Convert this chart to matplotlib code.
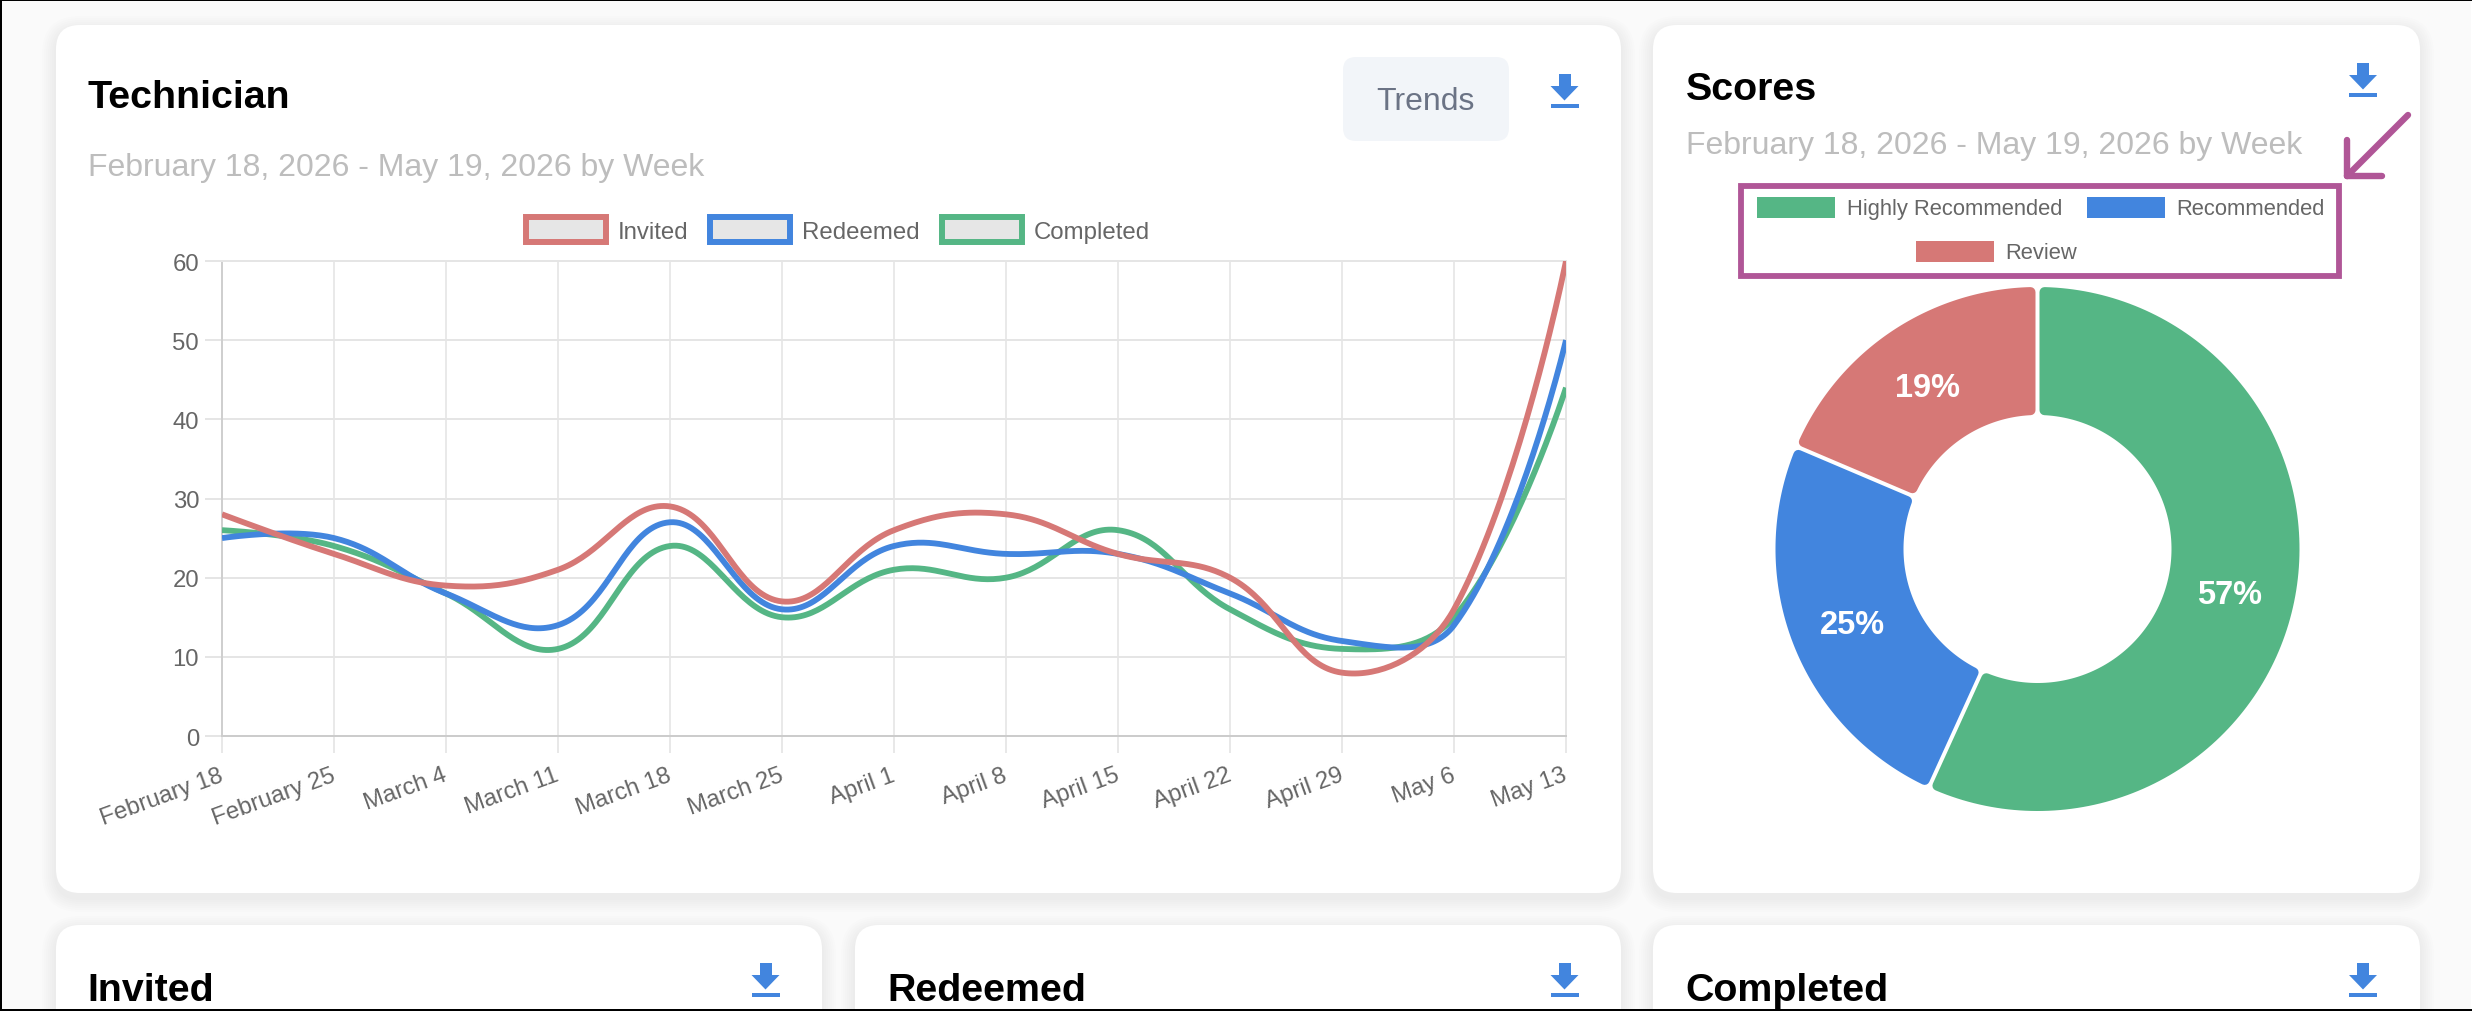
import numpy as np
import matplotlib
matplotlib.use("Agg")
import matplotlib.pyplot as plt
from matplotlib.patches import FancyBboxPatch, Patch, Polygon, Rectangle
from matplotlib.lines import Line2D
from matplotlib.path import Path
from matplotlib.transforms import ScaledTranslation

plt.rcParams['font.family'] = ['Liberation Sans', 'DejaVu Sans']

# ---------- data ----------
weeks = ["February 18", "February 25", "March 4", "March 11", "March 18", "March 25",
         "April 1", "April 8", "April 15", "April 22", "April 29", "May 6", "May 13"]
invited = [28, 23, 19, 21, 29, 17, 26, 28, 23, 20, 8, 16, 60]
redeemed = [25, 25, 18, 14, 27, 16, 24, 23, 23, 18, 12, 14, 50]
completed = [26, 24, 18, 11, 24, 15, 21, 20, 26, 16, 11, 15, 44]
y_ticks = [0, 10, 20, 30, 40, 50, 60]
score_labels = ["Highly Recommended", "Recommended", "Review"]
score_values = [56.8, 24.6, 18.6]
date_range = "February 18, 2026 - May 19, 2026 by Week"

RED, BLUE, GREEN = '#d67876', '#4285de', '#55b685'
PURPLE = '#b05697'
W, H = 2472, 1012

fig = plt.figure(figsize=(W / 100, H / 100), dpi=100, facecolor='#fafafa')


def px_axes(l, t, r, b, **kw):
    return fig.add_axes([l / W, 1 - b / H, (r - l) / W, (b - t) / H], **kw)


# ---------- page layer in pixel coordinates ----------
bg = px_axes(0, 0, W, H, zorder=0)
bg.set_xlim(0, W)
bg.set_ylim(H, 0)
bg.axis('off')


def card(x0, y0, x1, y1, r=24):
    for i in range(7):
        e = 14 - 2 * i
        bg.add_patch(FancyBboxPatch((x0 - e, y0 + 5 - e), x1 - x0 + 2 * e, y1 - y0 + 2 * e,
                                    boxstyle=f"round,pad=0,rounding_size={r + e}",
                                    fc='black', ec='none', alpha=0.006, clip_on=True))
    bg.add_patch(FancyBboxPatch((x0, y0), x1 - x0, y1 - y0,
                                boxstyle=f"round,pad=0,rounding_size={r}",
                                fc='white', ec='none'))


for c in [(56, 26, 1621, 894), (1653, 26, 2420, 894),
          (56, 926, 822, 1040), (855, 926, 1621, 1040), (1653, 926, 2420, 1040)]:
    card(*c)


def icon(cx, top):
    bg.add_patch(Rectangle((cx - 6, top), 12, 12.5, fc=BLUE, ec='none'))
    bg.add_patch(Polygon([(cx - 14, top + 12), (cx + 14, top + 12), (cx, top + 26.5)],
                         fc=BLUE, ec='none'))
    bg.add_patch(Rectangle((cx - 14, top + 30), 28, 4, fc=BLUE, ec='none'))


for cx, top in [(1564.5, 75), (2363, 64), (765.5, 964), (1564.5, 964), (2363, 964)]:
    icon(cx, top)

for s, x, y in [("Technician", 88, 108), ("Scores", 1686, 100), ("Invited", 87, 1001),
                ("Redeemed", 887, 1001), ("Completed", 1685, 1001)]:
    bg.text(x, y, s, fontsize=28.4, fontweight='bold', color='black', va='baseline', ha='left')

for x, y in [(88, 176), (1686, 154)]:
    bg.text(x, y, date_range, fontsize=23, color='#bdbdbd', va='baseline', ha='left')

bg.add_patch(FancyBboxPatch((1343, 58), 166, 84, boxstyle="round,pad=0,rounding_size=13",
                            fc='#f2f5f9', ec='none'))
bg.text(1425.5, 101.5, "Trends", fontsize=23, color='#6b7385', ha='center', va='center')

# ---------- line chart ----------
AX_L, AX_T, AX_R, AX_B = 222, 262, 1566, 737
ax = px_axes(AX_L, AX_T, AX_R, AX_B, zorder=2)
ax.patch.set_alpha(0)
x_idx = np.arange(len(weeks))
ax.set_xlim(0, len(weeks) - 1)
ax.set_ylim(0, 60)
sx = (AX_R - AX_L) / (len(weeks) - 1)
sy = (AX_B - AX_T) / 60


def spline(xs, ys, tension=0.4, n=40):
    """Chart.js style cubic through the values; returns sampled curve."""
    p = np.column_stack([np.asarray(xs, float) * sx, np.asarray(ys, float) * sy])
    m = len(p)
    prev_cp, next_cp = p.copy(), p.copy()
    for i in range(1, m - 1):
        d01 = np.hypot(*(p[i] - p[i - 1]))
        d12 = np.hypot(*(p[i + 1] - p[i]))
        tot = d01 + d12
        prev_cp[i] = p[i] - tension * d01 / tot * (p[i + 1] - p[i - 1])
        next_cp[i] = p[i] + tension * d12 / tot * (p[i + 1] - p[i - 1])
    out = []
    t = np.linspace(0, 1, n)[:, None]
    for i in range(m - 1):
        out.append((1 - t) ** 3 * p[i] + 3 * (1 - t) ** 2 * t * next_cp[i]
                   + 3 * (1 - t) * t ** 2 * prev_cp[i + 1] + t ** 3 * p[i + 1])
    out = np.vstack(out)
    return out[:, 0] / sx, out[:, 1] / sy


for vals, col, z, name in [(completed, GREEN, 3, "Completed"),
                           (redeemed, BLUE, 4, "Redeemed"),
                           (invited, RED, 5, "Invited")]:
    cx, cy = spline(x_idx, vals)
    ax.plot(cx, cy, color=col, lw=4.2, zorder=z, solid_capstyle='butt', label=name)

ax.set_xticks(x_idx)
ax.set_xticklabels(weeks, rotation=20, ha='right', rotation_mode='anchor',
                   fontsize=17.2, color='#666666')
ax.set_yticks(y_ticks)
ax.tick_params(axis='y', labelsize=17.2, labelcolor='#666666', length=12, width=1.44,
               color='#e5e5e5', pad=4.5)
ax.tick_params(axis='x', length=12, width=1.25, color='#e5e5e5', pad=8)
shift = ScaledTranslation(-3.5 / 100, 0, fig.dpi_scale_trans)
for lab in ax.get_xticklabels():
    lab.set_transform(lab.get_transform() + shift)
ax.grid(True, axis='y', color='#e5e5e5', lw=1.44, zorder=1)
ax.grid(True, axis='x', color='#e6e6e6', lw=1.25, zorder=1)
ax.set_axisbelow(True)
for side, col in [('left', '#cfcfcf'), ('bottom', '#cccccc'), ('top', '#e5e5e5'), ('right', '#e5e5e5')]:
    ax.spines[side].set_color(col)
    ax.spines[side].set_linewidth(1.44)

fs_line = 17.3
fs_px = fs_line / 0.72
line_handles = [Patch(facecolor='#e6e6e6', edgecolor=c, lw=4.3, joinstyle='miter')
                for c in (RED, BLUE, GREEN)]
ax.legend(line_handles, ["Invited", "Redeemed", "Completed"], ncol=3, loc='center',
          bbox_to_anchor=(838 / W, 1 - 231 / H), bbox_transform=fig.transFigure,
          frameon=False, fontsize=fs_line, labelcolor='#666666',
          handlelength=80 / fs_px, handleheight=28 / fs_px, handletextpad=0.5,
          columnspacing=0.92, borderpad=0, borderaxespad=0)

# ---------- doughnut ----------
CX, CY, R_OUT, R_IN = 2037.5, 550, 262, 134
dn = px_axes(CX - 300, CY - 300, CX + 300, CY + 300, zorder=2)
wedges, _, autotexts = dn.pie(score_values, colors=[GREEN, BLUE, RED], startangle=90,
                              counterclock=False, radius=R_OUT, autopct='%.0f%%',
                              pctdistance=198 / R_OUT,
                              wedgeprops={'width': R_OUT - R_IN},
                              textprops={'color': 'white', 'fontsize': 23.5, 'fontweight': 'bold'})
dn.set_xlim(-300, 300)
dn.set_ylim(-300, 300)
lab_shift = ScaledTranslation(-1.0 / 100, -3.5 / 100, fig.dpi_scale_trans)
for t in autotexts:
    t.set_transform(t.get_transform() + lab_shift)
corner, gap = 5.0, 2.0
ro, ri = R_OUT - corner, R_IN + corner
off = corner + gap
for w in wedges:
    aso, asi = np.degrees(np.arcsin(off / ro)), np.degrees(np.arcsin(off / ri))
    to = np.radians(np.linspace(w.theta1 + aso, w.theta2 - aso, 160))
    ti = np.radians(np.linspace(w.theta2 - asi, w.theta1 + asi, 160))
    verts = np.vstack([np.column_stack([ro * np.cos(to), ro * np.sin(to)]),
                       np.column_stack([ri * np.cos(ti), ri * np.sin(ti)]),
                       [[ro * np.cos(to[0]), ro * np.sin(to[0])]]])
    w._path = Path(verts, closed=True)
    w.set_edgecolor(w.get_facecolor())
    w.set_linewidth(2 * corner * 0.72)
    w.set_joinstyle('round')

fs_dn = 15.85
fs_dn_px = fs_dn / 0.72
score_handles = [Patch(facecolor=c, edgecolor='none') for c in (GREEN, BLUE, RED)]
common = dict(frameon=False, fontsize=fs_dn, labelcolor='#666666', loc='center',
              bbox_transform=fig.transFigure, handlelength=78 / fs_dn_px,
              handleheight=24 / fs_dn_px, handletextpad=0.55, columnspacing=1.1,
              borderpad=0, borderaxespad=0)
leg1 = dn.legend(score_handles[:2], score_labels[:2], ncol=2,
                 bbox_to_anchor=(2041 / W, 1 - 209 / H), **common)
dn.add_artist(leg1)
dn.legend(score_handles[2:], score_labels[2:], ncol=1,
          bbox_to_anchor=(1996.5 / W, 1 - 253 / H), **common)

# ---------- annotation overlay ----------
top = px_axes(0, 0, W, H, zorder=5)
top.set_xlim(0, W)
top.set_ylim(H, 0)
top.axis('off')
top.patch.set_alpha(0)
top.add_patch(Rectangle((1741, 187), 598, 90, fc='none', ec=PURPLE, lw=4.2, joinstyle='miter'))
for xs, ys in [((2408, 2347), (116, 177)), ((2347, 2347), (141, 177)), ((2347, 2382), (177, 177))]:
    top.add_line(Line2D(xs, ys, color=PURPLE, lw=4.6, solid_capstyle='round'))
# screenshot frame: black on top, left and bottom, white sliver at right
for r in [(0, 0, W, 2), (0, 0, 2, H), (0, H - 2, W, 2)]:
    top.add_patch(Rectangle((r[0], r[1]), r[2], r[3], fc='black', ec='none'))
top.add_patch(Rectangle((W - 1, 2), 1, H - 4, fc='white', ec='none'))

fig.savefig('out.png', dpi=100, facecolor=fig.get_facecolor())
